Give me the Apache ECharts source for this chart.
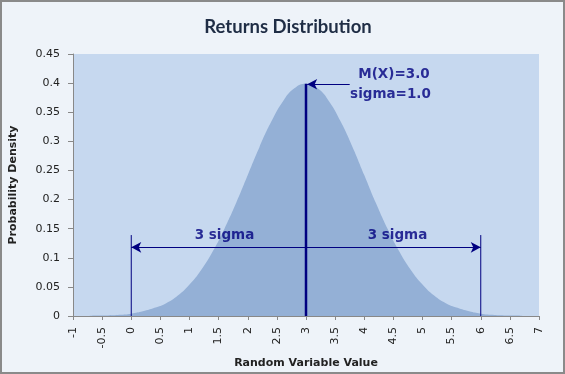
<!DOCTYPE html>
<html><head><meta charset="utf-8">
<script src="https://cdn.jsdelivr.net/npm/echarts@6/dist/echarts.min.js"></script>
<style>html,body{margin:0;padding:0;background:#EEF3F9}#c{width:565px;height:374px}</style>
</head><body><div id="c"></div>
<script>
// Data
const xValues = [-1,-0.8,-0.6,-0.4,-0.2,0,0.2,0.4,0.6,0.8,1,1.2,1.4,1.6,1.8,2,2.2,2.4,2.6,2.8,3,3.2,3.4,3.6,3.8,4,4.2,4.4,4.6,4.8,5,5.2,5.4,5.6,5.8,6,6.2,6.4,6.6,6.8,7];
const density = [0.000,0.000,0.001,0.001,0.002,0.004,0.008,0.014,0.022,0.035,0.054,0.079,0.111,0.150,0.194,0.242,0.290,0.333,0.368,0.391,0.399,0.391,0.368,0.333,0.290,0.242,0.194,0.150,0.111,0.079,0.054,0.035,0.022,0.014,0.008,0.004,0.002,0.001,0.001,0.000,0.000];
const meanX = 3.0;
const peakY = 0.399;
const sigmaLeftX = 0;
const sigmaRightX = 6;
const bracketTopY = 0.139;
const arrowY = 0.118;
const sigmaLabels = [[1.6, 0.139, '3 sigma'], [4.57, 0.139, '3 sigma']];
const meanLabels = [[4.51, 0.414, 'M(X)=3.0'], [4.45, 0.381, 'sigma=1.0']];
const meanArrow = [[3.75, 0.398], [3.02, 0.398]];

const navy = '#000080';
const chart = echarts.init(document.getElementById('c'), null, {renderer: 'canvas'});
const annFont = {fontFamily: 'DejaVu Sans', fontWeight: 'bold', fontSize: 13.5, color: navy};

chart.setOption({
  backgroundColor: '#EEF3F9',
  animation: false,
  title: {text: 'Returns Distribution', left: 283, top: 13, textAlign: 'center',
    textStyle: {fontFamily: 'Lato', fontWeight: 'bold', fontSize: 18.5, color: '#1F2D45'}},
  grid: {left: 71, right: 26, top: 54, bottom: 58, show: true, backgroundColor: '#C6D8EF', borderWidth: 0},
  xAxis: {type: 'value', min: -1, max: 7, interval: 0.5,
    name: 'Random Variable Value', nameLocation: 'middle', nameGap: 42,
    nameTextStyle: {fontFamily: 'DejaVu Sans', fontWeight: 'bold', fontSize: 11, color: '#222'},
    axisLine: {onZero: false, lineStyle: {color: '#888', width: 1}},
    axisTick: {show: true, length: 4, lineStyle: {color: '#888'}},
    axisLabel: {rotate: 90, fontFamily: 'DejaVu Sans', fontSize: 11, color: '#222', margin: 11},
    splitLine: {show: false}},
  yAxis: {type: 'value', min: 0, max: 0.45, interval: 0.05,
    name: 'Probability Density', nameLocation: 'middle', nameGap: 54, nameRotate: 90,
    nameTextStyle: {fontFamily: 'DejaVu Sans', fontWeight: 'bold', fontSize: 11, color: '#222'},
    axisLine: {show: true, onZero: false, lineStyle: {color: '#888', width: 1}},
    axisTick: {show: true, length: 5, lineStyle: {color: '#888'}},
    axisLabel: {fontFamily: 'DejaVu Sans', fontSize: 11, color: '#222', margin: 13},
    splitLine: {show: false}},
  graphic: [{type: 'rect', shape: {x: 1, y: 1, width: 563, height: 372},
    style: {fill: 'none', stroke: '#8A8A8A', lineWidth: 2}, z: 100}],
  series: [
    {type: 'line', data: xValues.map((x, i) => [x, density[i]]), smooth: true, symbol: 'none',
      lineStyle: {width: 0}, areaStyle: {color: '#94B0D6', opacity: 1}, z: 1},
    {type: 'line', data: [[meanX, 0], [meanX, peakY]], symbol: 'none', lineStyle: {color: navy, width: 2.5}, z: 5},
    {type: 'line', data: [[sigmaLeftX, 0], [sigmaLeftX, bracketTopY]], symbol: 'none', lineStyle: {color: navy, width: 1}, z: 5},
    {type: 'line', data: [[sigmaRightX, 0], [sigmaRightX, bracketTopY]], symbol: 'none', lineStyle: {color: navy, width: 1}, z: 5},
    {type: 'line', data: [], symbol: 'none', z: 6,
      markLine: {silent: true, symbol: ['arrow', 'arrow'], symbolSize: [8, 10], label: {show: false},
        lineStyle: {color: navy, width: 1, type: 'solid'},
        data: [[{coord: [sigmaLeftX, arrowY]}, {coord: [sigmaRightX, arrowY]}]]}},
    {type: 'line', data: [], symbol: 'none', z: 6,
      markLine: {silent: true, symbol: ['none', 'arrow'], symbolSize: [8, 10], label: {show: false},
        lineStyle: {color: navy, width: 1, type: 'solid'},
        data: [[{coord: meanArrow[0]}, {coord: meanArrow[1]}]]}},
    {type: 'scatter', symbolSize: 0, z: 7,
      data: sigmaLabels.concat(meanLabels).map(d => ({value: [d[0], d[1]], name: d[2]})),
      label: Object.assign({show: true, position: 'inside', formatter: p => p.name}, annFont)}
  ]
});
</script></body></html>
